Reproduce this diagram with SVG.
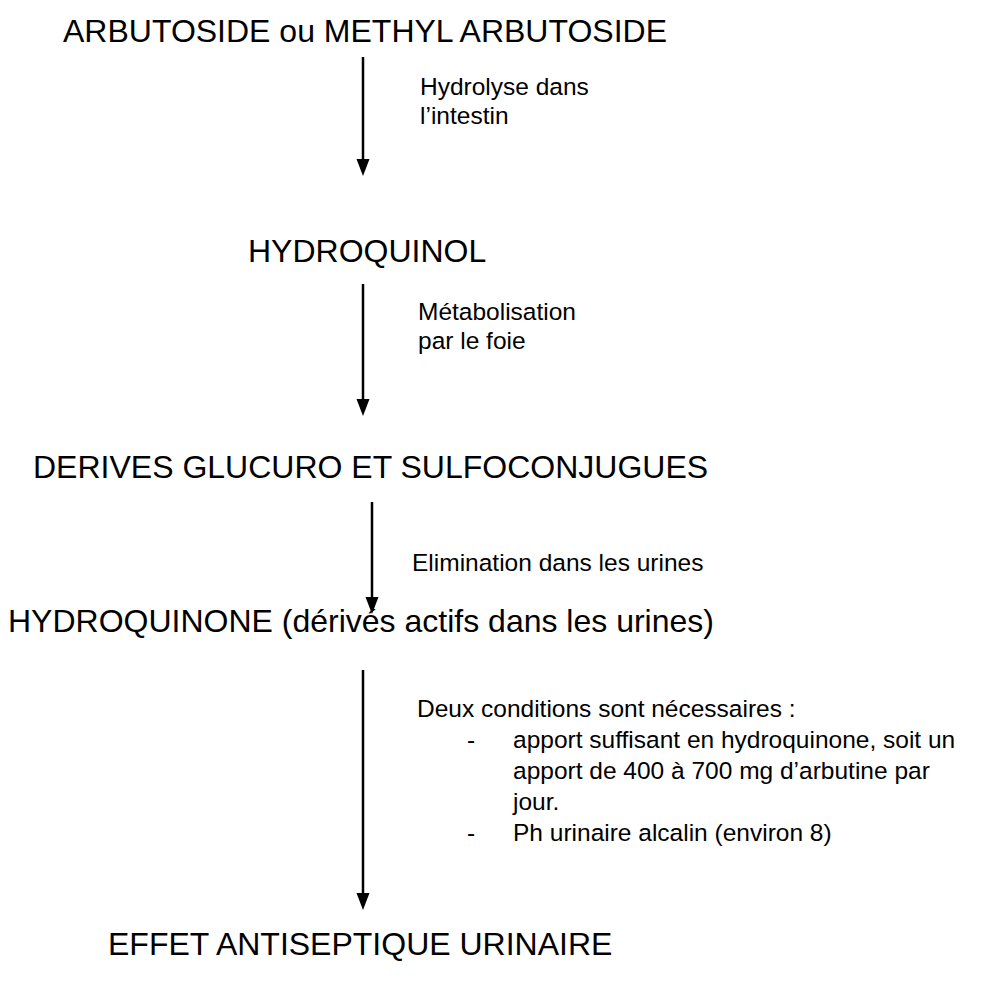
<svg xmlns="http://www.w3.org/2000/svg" width="1007" height="981" viewBox="0 0 1007 981">
<style>
.big{font-family:"Liberation Sans",Arial,sans-serif;font-size:32px;fill:#000}
.small{font-family:"Liberation Sans",Arial,sans-serif;font-size:24.5px;fill:#000}
.arrow{stroke:#000;stroke-width:2.5;fill:none;marker-end:url(#head)}
</style>
<defs>
<marker id="head" markerUnits="userSpaceOnUse" viewBox="0 -7 18 14" markerWidth="18" markerHeight="14" refX="0" refY="0" orient="auto">
<path d="M0,-6.5 L17,0 L0,6.5 Z" fill="#000"/>
</marker>
</defs>
<rect width="1007" height="981" fill="#fff"/>
<g id="connectors">
<line class="arrow" x1="363" y1="57" x2="363" y2="159"/>
<line class="arrow" x1="363" y1="284" x2="363" y2="399"/>
<line class="arrow" x1="372" y1="502" x2="372" y2="597"/>
<line class="arrow" x1="363" y1="670" x2="363" y2="893"/>
<text class="small" x="420" y="95">Hydrolyse dans</text>
<text class="small" x="420" y="124">l’intestin</text>
<text class="small" x="418" y="320">Métabolisation</text>
<text class="small" x="418" y="349">par le foie</text>
<text class="small" x="412" y="571">Elimination dans les urines</text>
<text class="small" x="417" y="717">Deux conditions sont nécessaires :</text>
<text class="small" x="467" y="748">-</text>
<text class="small" x="513" y="748">apport suffisant en hydroquinone, soit un</text>
<text class="small" x="513" y="779">apport de 400 à 700 mg d’arbutine par</text>
<text class="small" x="513" y="810">jour.</text>
<text class="small" x="467" y="841">-</text>
<text class="small" x="513" y="841">Ph urinaire alcalin (environ 8)</text>
</g>
<g id="n1"><text class="big" x="63" y="42">ARBUTOSIDE ou METHYL ARBUTOSIDE</text></g>
<g id="n2"><text class="big" x="248" y="262">HYDROQUINOL</text></g>
<g id="n3"><text class="big" x="33" y="478">DERIVES GLUCURO ET SULFOCONJUGUES</text></g>
<g id="n4"><text class="big" x="8" y="632">HYDROQUINONE (dérivés actifs dans les urines)</text></g>
<g id="n5"><text class="big" x="108" y="955">EFFET ANTISEPTIQUE URINAIRE</text></g>
</svg>
